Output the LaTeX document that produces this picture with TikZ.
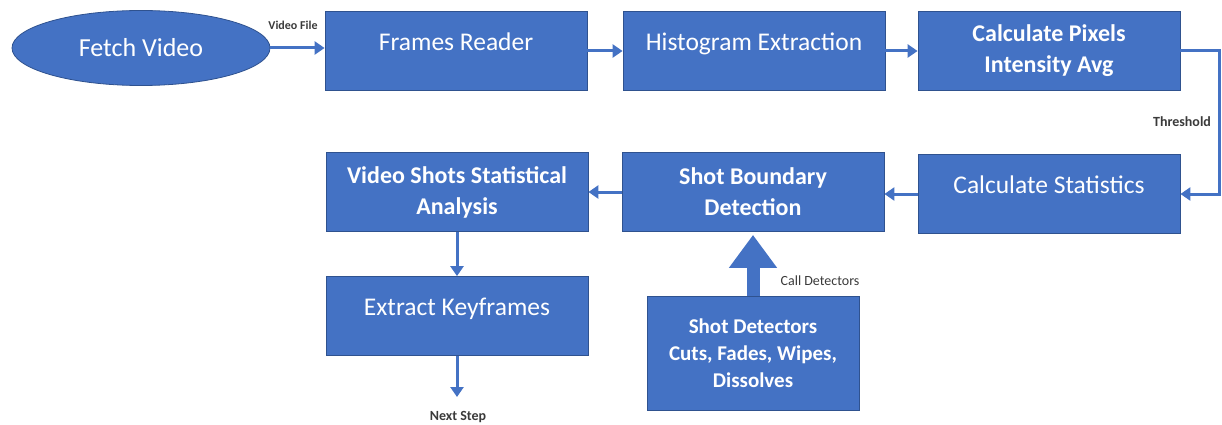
\documentclass[tikz,border=0pt]{standalone}
\usepackage{fontspec}
\setmainfont{Carlito}
\usepackage{tikz}
\usetikzlibrary{positioning}
\usetikzlibrary{shapes.geometric}
\usetikzlibrary{arrows.meta}

\definecolor{boxblue}{HTML}{4472C4}
\definecolor{edgeblue}{HTML}{2F528F}
\definecolor{labelgray}{HTML}{3A3A3A}

\begin{document}
\begin{tikzpicture}[x=1pt, y=-1pt,
		stage/.style={rectangle, draw=edgeblue, line width=0.8pt, fill=boxblue, text=white,
			minimum width=262pt, minimum height=79pt, inner sep=0pt, align=center,
			font=\fontsize{24}{31}\selectfont\bfseries},
		oneline/.style={font=\fontsize{25.5}{30}\selectfont, text height=18pt, text depth=19pt},
		oval/.style={ellipse, draw=edgeblue, line width=0.8pt, fill=boxblue, text=white,
			minimum width=258pt, minimum height=75pt, inner sep=0pt,
			font=\fontsize{26}{30}\selectfont},
		flow/.style={draw=boxblue, line width=3pt, -{Triangle[length=10pt,width=13pt]}},
		tag/.style={text=labelgray, font=\fontsize{12}{14}\selectfont\bfseries}]
			\useasboundingbox (0,0) rectangle (1222,425);
			% top row
			\node[oval] (fetch) at (141,48) {Fetch Video};
			\node[stage, oneline] (frames) at (456,51) {Frames Reader};
			\node[stage, oneline] (hist) at (754,51) {Histogram Extraction};
			\node[stage] (pixels) at (1049,51) {Calculate Pixels\\Intensity Avg};
			% second row
			\node[stage, oneline] (stats) at (1049,194) {Calculate Statistics};
			\node[stage] (boundary) at (753,192) {Shot Boundary\\Detection};
			\node[stage] (shots) at (457,192) {Video Shots Statistical\\Analysis};
			% bottom
			\node[stage, oneline] (keyframes) at (457,316) {Extract Keyframes};
			\node[stage, minimum width=212pt, minimum height=114pt,
				font=\fontsize{21}{27}\selectfont\bfseries] (detectors) at (753,353)
				{Shot Detectors\\Cuts, Fades, Wipes,\\Dissolves};
			\coordinate (next) at (457,397);

			\draw[flow] (fetch.east) -- (fetch.east -| frames.west);
			\draw[flow] (frames) -- (hist);
			\draw[flow] (hist) -- (pixels);
			\draw[flow] (pixels.east) -- ++(39,0) |- (stats.east);
			\draw[flow] (stats.west) -- (stats.west -| boundary.east);
			\draw[flow] (boundary.west) -- (boundary.west -| shots.east);
			\draw[flow] (shots) -- (keyframes);
			\draw[flow] (keyframes) -- (next);
			\draw[draw=boxblue, line width=13pt, -{Triangle[length=33pt,width=46pt]},
				shorten >=3pt] (detectors) -- (boundary);

			\node[tag] at (293,25) {Video File};
			\node[tag, font=\fontsize{14}{16}\selectfont\bfseries] at (1182,122) {Threshold};
			\node[tag, font=\fontsize{14}{16}\selectfont] at (820,281) {Call Detectors};
			\node[tag, font=\fontsize{14}{16}\selectfont\bfseries] at (458,417) {Next Step};
	\end{tikzpicture}
\end{document}
